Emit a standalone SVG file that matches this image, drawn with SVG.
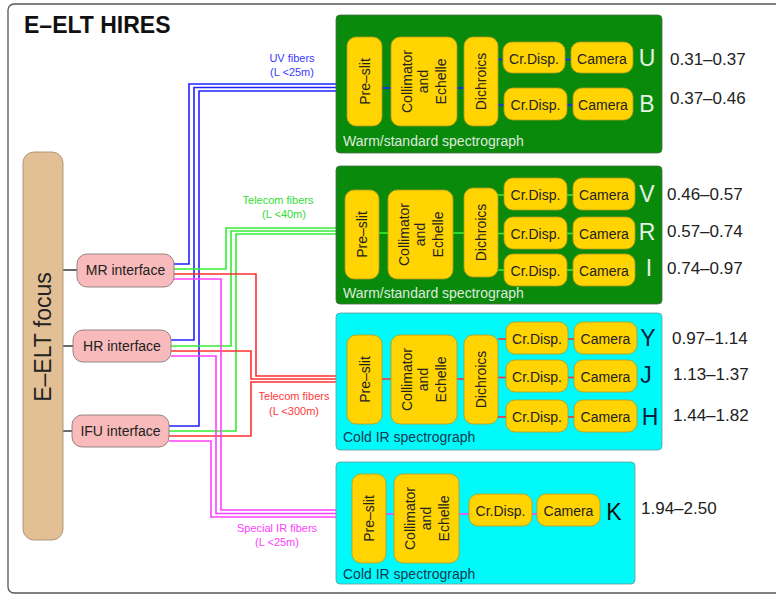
<svg xmlns="http://www.w3.org/2000/svg" width="776" height="597" viewBox="0 0 776 597">
<style>
text{font-family:"Liberation Sans",Arial,sans-serif}
.frame{fill:#fff;stroke:#555;stroke-width:1.3}
.green{fill:#0a8a0a;stroke:#4a6a4a;stroke-width:0.8}
.cyan{fill:#00fafa;stroke:#6a9a9a;stroke-width:0.8}
.gold{fill:#ffd400;stroke:#b89a20;stroke-width:0.8}
.iface{fill:#f8baba;stroke:#8a7a7a;stroke-width:0.9}
.focus{fill:#e3bf95;stroke:#a89070;stroke-width:0.9}
.bt{font-size:14px;fill:#222;text-anchor:middle}
.ft{font-size:11px;text-anchor:middle}
.f{fill:none;stroke-width:1.6}
.b{stroke:#2222ff}.g{stroke:#33ee33}.r{stroke:#ff3030}.m{stroke:#ff40ff}
.rng{font-size:17px;fill:#222}
.lw{font-size:23px;fill:#e6f2e6;text-anchor:middle}
.ld{font-size:23px;fill:#0c2240;text-anchor:middle}
.sw{font-size:14px;fill:#dfe9df}
.sc{font-size:14px;fill:#153850}
</style>
<rect class="frame" x="8" y="4" width="800" height="589" rx="6"/>
<text x="24" y="33" font-size="23" font-weight="bold" fill="#111">E–ELT HIRES</text>

<g id="connectors">
  <g stroke="#444" stroke-width="1.6">
    <line x1="63" y1="270" x2="77" y2="270"/>
    <line x1="63" y1="346" x2="73" y2="346"/>
    <line x1="63" y1="431" x2="72" y2="431"/>
  </g>
  <path class="f b" d="M174,264 H189 V84 H347"/>
  <path class="f b" d="M171,340 H194 V87.5 H347"/>
  <path class="f b" d="M169,426 H199 V91 H347"/>
  <path class="f g" d="M174,269 H226 V228 H345"/>
  <path class="f g" d="M171,346 H231 V231 H345"/>
  <path class="f g" d="M169,431 H236 V234 H345"/>
  <path class="f r" d="M174,274 H256 V376 H347"/>
  <path class="f r" d="M171,351 H251 V379 H347"/>
  <path class="f r" d="M169,436 H251 V382 H347"/>
  <path class="f m" d="M174,279 H221 V510 H352"/>
  <path class="f m" d="M171,356 H216 V513.5 H352"/>
  <path class="f m" d="M169,441 H211 V517 H352"/>
  <text class="ft" x="292" y="62" fill="#3a3aff">UV fibers</text>
  <text class="ft" x="292" y="76" fill="#3a3aff">(L &lt;25m)</text>
  <text class="ft" x="278" y="204" fill="#33dd33">Telecom fibers</text>
  <text class="ft" x="284" y="218" fill="#33dd33">(L &lt;40m)</text>
  <text class="ft" x="294" y="400" fill="#ff3a3a">Telecom fibers</text>
  <text class="ft" x="294" y="415" fill="#ff3a3a">(L &lt;300m)</text>
  <text class="ft" x="277" y="532" fill="#ff40ff">Special IR fibers</text>
  <text class="ft" x="277" y="546" fill="#ff40ff">(L &lt;25m)</text>
</g>

<g id="focus">
  <rect class="focus" x="23" y="152" width="40" height="388" rx="11"/>
  <text transform="translate(51,337) rotate(-90)" font-size="23" fill="#222" text-anchor="middle">E–ELT focus</text>
</g>
<g id="mr-interface">
  <rect class="iface" x="77" y="254" width="97" height="33" rx="10"/>
  <text class="bt" x="125.5" y="275">MR interface</text>
</g>
<g id="hr-interface">
  <rect class="iface" x="73" y="330" width="98" height="32" rx="10"/>
  <text class="bt" x="122" y="351">HR interface</text>
</g>
<g id="ifu-interface">
  <rect class="iface" x="72" y="415" width="97" height="32" rx="10"/>
  <text class="bt" x="120.5" y="436">IFU interface</text>
</g>

<g id="spec-uv">
  <rect class="green" x="336" y="15" width="326" height="138" rx="4"/>
  <g class="f b" stroke-width="1.5">
    <line x1="382" y1="88" x2="391" y2="88"/>
    <line x1="457" y1="88" x2="464" y2="88"/>
    <line x1="498" y1="59.5" x2="503" y2="59.5"/>
    <line x1="565" y1="59.5" x2="571" y2="59.5"/>
    <line x1="498" y1="105" x2="504" y2="105"/>
    <line x1="567" y1="105" x2="573" y2="105"/>
  </g>
  <rect class="gold" x="347" y="37" width="35" height="89" rx="9"/>
  <text class="bt" transform="translate(369.5,81.5) rotate(-90)">Pre–slit</text>
  <rect class="gold" x="391" y="37" width="66" height="89" rx="9"/>
  <text class="bt" transform="translate(424,81.5) rotate(-90)"><tspan x="0" y="-12">Collimator</tspan><tspan x="0" y="4">and</tspan><tspan x="0" y="22">Echelle</tspan></text>
  <rect class="gold" x="464" y="37" width="34" height="89" rx="9"/>
  <text class="bt" transform="translate(486,81.5) rotate(-90)">Dichroics</text>
  <rect class="gold" x="503" y="42" width="62" height="31" rx="9"/>
  <text class="bt" x="534" y="64">Cr.Disp.</text>
  <rect class="gold" x="571" y="42" width="62" height="31" rx="9"/>
  <text class="bt" x="602" y="64">Camera</text>
  <rect class="gold" x="504" y="88" width="63" height="32" rx="9"/>
  <text class="bt" x="535.5" y="110">Cr.Disp.</text>
  <rect class="gold" x="573" y="88" width="60" height="32" rx="9"/>
  <text class="bt" x="603" y="110">Camera</text>
  <text class="sw" x="343" y="146">Warm/standard spectrograph</text>
  <text class="lw" x="647" y="66">U</text>
  <text class="lw" x="647" y="112">B</text>
  <text class="rng" x="670" y="65">0.31–0.37</text>
  <text class="rng" x="670" y="104">0.37–0.46</text>
</g>

<g id="spec-vis">
  <rect class="green" x="336" y="166" width="326" height="138" rx="4"/>
  <g class="f g" stroke-width="1.5">
    <line x1="379" y1="233" x2="388" y2="233"/>
    <line x1="453" y1="233" x2="464" y2="233"/>
    <line x1="498" y1="195" x2="504" y2="195"/>
    <line x1="567" y1="195" x2="573" y2="195"/>
    <line x1="498" y1="233.5" x2="504" y2="233.5"/>
    <line x1="567" y1="233.5" x2="573" y2="233.5"/>
    <line x1="498" y1="270" x2="504" y2="270"/>
    <line x1="567" y1="270" x2="573" y2="270"/>
  </g>
  <rect class="gold" x="345" y="190" width="34" height="89" rx="9"/>
  <text class="bt" transform="translate(367,234.5) rotate(-90)">Pre–slit</text>
  <rect class="gold" x="388" y="190" width="65" height="89" rx="9"/>
  <text class="bt" transform="translate(420.5,234.5) rotate(-90)"><tspan x="0" y="-12">Collimator</tspan><tspan x="0" y="4">and</tspan><tspan x="0" y="22">Echelle</tspan></text>
  <rect class="gold" x="464" y="188" width="34" height="89" rx="9"/>
  <text class="bt" transform="translate(486,232.5) rotate(-90)">Dichroics</text>
  <rect class="gold" x="504" y="178" width="63" height="32" rx="9"/>
  <text class="bt" x="535.5" y="200">Cr.Disp.</text>
  <rect class="gold" x="573" y="178" width="62" height="32" rx="9"/>
  <text class="bt" x="604" y="200">Camera</text>
  <rect class="gold" x="504" y="217" width="63" height="32" rx="9"/>
  <text class="bt" x="535.5" y="239">Cr.Disp.</text>
  <rect class="gold" x="573" y="217" width="62" height="32" rx="9"/>
  <text class="bt" x="604" y="239">Camera</text>
  <rect class="gold" x="504" y="254" width="63" height="32" rx="9"/>
  <text class="bt" x="535.5" y="276">Cr.Disp.</text>
  <rect class="gold" x="573" y="254" width="62" height="32" rx="9"/>
  <text class="bt" x="604" y="276">Camera</text>
  <text class="sw" x="343" y="298">Warm/standard spectrograph</text>
  <text class="lw" x="647" y="202">V</text>
  <text class="lw" x="647" y="240">R</text>
  <text class="lw" x="649" y="276">I</text>
  <text class="rng" x="667" y="200">0.46–0.57</text>
  <text class="rng" x="667" y="237">0.57–0.74</text>
  <text class="rng" x="667" y="274">0.74–0.97</text>
</g>

<g id="spec-nir">
  <rect class="cyan" x="336" y="313" width="326" height="137" rx="4"/>
  <g class="f r" stroke-width="1.5">
    <line x1="382" y1="379" x2="391" y2="379"/>
    <line x1="457" y1="379" x2="464" y2="379"/>
    <line x1="498" y1="339" x2="506" y2="339"/>
    <line x1="568" y1="339" x2="574" y2="339"/>
    <line x1="498" y1="377.5" x2="506" y2="377.5"/>
    <line x1="568" y1="377.5" x2="574" y2="377.5"/>
    <line x1="498" y1="417" x2="506" y2="417"/>
    <line x1="568" y1="417" x2="574" y2="417"/>
  </g>
  <rect class="gold" x="347" y="335" width="35" height="89" rx="9"/>
  <text class="bt" transform="translate(369.5,379.5) rotate(-90)">Pre–slit</text>
  <rect class="gold" x="391" y="335" width="66" height="89" rx="9"/>
  <text class="bt" transform="translate(424,379.5) rotate(-90)"><tspan x="0" y="-12">Collimator</tspan><tspan x="0" y="4">and</tspan><tspan x="0" y="22">Echelle</tspan></text>
  <rect class="gold" x="464" y="335" width="34" height="89" rx="9"/>
  <text class="bt" transform="translate(486,379.5) rotate(-90)">Dichroics</text>
  <rect class="gold" x="506" y="322" width="62" height="32" rx="9"/>
  <text class="bt" x="537" y="344">Cr.Disp.</text>
  <rect class="gold" x="574" y="322" width="63" height="32" rx="9"/>
  <text class="bt" x="605.5" y="344">Camera</text>
  <rect class="gold" x="506" y="360" width="62" height="32" rx="9"/>
  <text class="bt" x="537" y="382">Cr.Disp.</text>
  <rect class="gold" x="574" y="360" width="63" height="32" rx="9"/>
  <text class="bt" x="605.5" y="382">Camera</text>
  <rect class="gold" x="506" y="400" width="62" height="32" rx="9"/>
  <text class="bt" x="537" y="422">Cr.Disp.</text>
  <rect class="gold" x="574" y="400" width="63" height="32" rx="9"/>
  <text class="bt" x="605.5" y="422">Camera</text>
  <text class="sc" x="343" y="442">Cold IR spectrograph</text>
  <text class="ld" x="648" y="346">Y</text>
  <text class="ld" x="646" y="383">J</text>
  <text class="ld" x="650" y="425">H</text>
  <text class="rng" x="672" y="344">0.97–1.14</text>
  <text class="rng" x="673" y="380">1.13–1.37</text>
  <text class="rng" x="673" y="421">1.44–1.82</text>
</g>

<g id="spec-k">
  <rect class="cyan" x="336" y="462" width="299" height="122" rx="4"/>
  <g class="f m" stroke-width="1.5">
    <line x1="386" y1="514" x2="394" y2="514"/>
    <line x1="459" y1="514" x2="469" y2="514"/>
    <line x1="532" y1="514" x2="537" y2="514"/>
  </g>
  <rect class="gold" x="352" y="474" width="34" height="89" rx="9"/>
  <text class="bt" transform="translate(374,518.5) rotate(-90)">Pre–slit</text>
  <rect class="gold" x="394" y="474" width="65" height="89" rx="9"/>
  <text class="bt" transform="translate(426.5,518.5) rotate(-90)"><tspan x="0" y="-12">Collimator</tspan><tspan x="0" y="4">and</tspan><tspan x="0" y="22">Echelle</tspan></text>
  <rect class="gold" x="469" y="494" width="63" height="32" rx="9"/>
  <text class="bt" x="500.5" y="516">Cr.Disp.</text>
  <rect class="gold" x="537" y="494" width="63" height="32" rx="9"/>
  <text class="bt" x="568.5" y="516">Camera</text>
  <text class="sc" x="343" y="579">Cold IR spectrograph</text>
  <text x="614" y="520" font-size="23" fill="#111" text-anchor="middle">K</text>
  <text class="rng" x="641" y="514">1.94–2.50</text>
</g>
</svg>
